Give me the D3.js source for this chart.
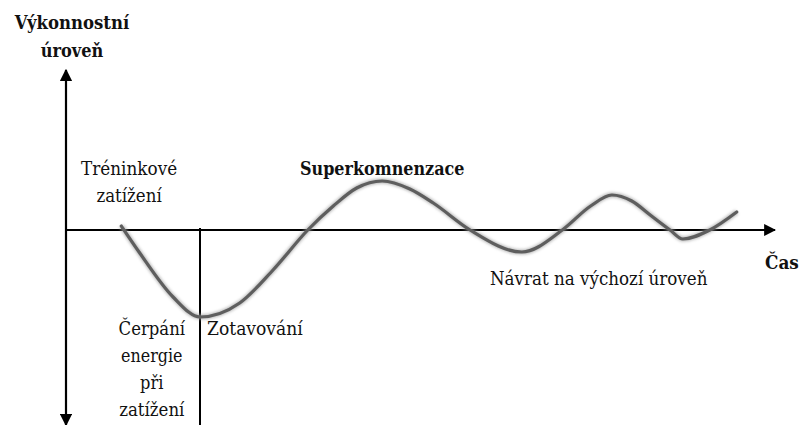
<!DOCTYPE html>
<html><head><meta charset="utf-8">
<script src="https://cdn.jsdelivr.net/npm/d3@7"></script>
<style>
html,body{margin:0;padding:0;background:#fff;}
svg{display:block;}
</style></head>
<body>
<svg id="chart" width="802" height="425"></svg>
<script>
// Data (arbitrary units: time 0..100, performance level -100..100)
const times  = [7.8, 10.4, 15.1, 18.9, 24.5, 29.2, 34.1, 37.7, 41.0, 44.6, 48.5, 51.8, 57.0, 64.3, 70.0, 74.0, 77.0, 79.8, 82.4, 85.2, 87.0, 90.8, 94.6];
const levels = [2, -11.5, -33.5, -43.5, -36.5, -20, 0, 12, 21, 24.5, 20.5, 13.5, 0, -11, 0, 12, 17.5, 14.5, 7.5, 0, -4.5, 0, 9];
const dividerTime = 18.9;
const yAxisTitle = ["Výkonnostní", "úroveň"];
const xAxisTitle = "Čas";
const labels = [
  {lines:["Tréninkové","zatížení"], t:8.9, v:27.5, anchor:"middle", bold:false},
  {lines:["Superkomnenzace"], t:33.0, v:27.5, anchor:"start", bold:true},
  {lines:["Návrat na výchozí úroveň"], t:59.8, v:-27.5, anchor:"start", bold:false},
  {lines:["Čerpání","energie","při","zatížení"], t:12.1, v:-52.5, anchor:"middle", bold:false},
  {lines:["Zotavování"], t:19.9, v:-52.5, anchor:"start", bold:false}
];

const FONT = "'DejaVu Serif', serif";
const METRIC_FONT = "'Liberation Serif', 'Times New Roman', serif";
const svg = d3.select("#chart");
const x = d3.scaleLinear().domain([0, 100]).range([66, 775]);
const y = d3.scaleLinear().domain([-100, 100]).range([430, 30]);

// measure Times-like widths, then draw serif glyphs fitted to them
const probe = svg.append("text").attr("font-family", METRIC_FONT).attr("font-size", 21)
  .attr("x", -1000).attr("y", -1000);
function fit(tspan, s, bold) {
  probe.attr("font-weight", bold ? "bold" : "normal").text(s);
  const w = probe.node().getComputedTextLength();
  tspan.attr("textLength", w).attr("lengthAdjust", "spacingAndGlyphs");
}

const defs = svg.append("defs");
defs.append("marker").attr("id", "arr")
  .attr("viewBox", "0 0 10 10").attr("refX", 9).attr("refY", 5)
  .attr("markerWidth", 5.5).attr("markerHeight", 5.5).attr("orient", "auto-start-reverse")
  .append("path").attr("d", "M0,0 L10,5 L0,10 Z").attr("fill", "#000");
defs.append("filter").attr("id","soft").attr("x","-10%").attr("y","-10%").attr("width","120%").attr("height","120%")
  .append("feGaussianBlur").attr("stdDeviation", 1.6);

// vertical axis (arrows both ends)
svg.append("line").attr("x1", x(0)).attr("x2", x(0))
  .attr("y1", y(80)).attr("y2", 425)
  .attr("stroke", "#000").attr("stroke-width", 2.2)
  .attr("marker-start", "url(#arr)").attr("marker-end", "url(#arr)");
// horizontal axis
svg.append("line").attr("x1", x(0)).attr("x2", x(100))
  .attr("y1", y(0)).attr("y2", y(0))
  .attr("stroke", "#000").attr("stroke-width", 2.2)
  .attr("marker-end", "url(#arr)");
// divider
svg.append("line").attr("x1", x(dividerTime)).attr("x2", x(dividerTime))
  .attr("y1", y(1)).attr("y2", 425)
  .attr("stroke", "#000").attr("stroke-width", 2);

// curve
const line = d3.line().x((d, i) => x(times[i])).y((d, i) => y(levels[i]))
  .curve(d3.curveMonotoneX);
svg.append("path").datum(levels).attr("d", line)
  .attr("fill", "none").attr("stroke", "#999").attr("stroke-width", 5)
  .attr("filter", "url(#soft)").attr("opacity", 0.7);
svg.append("path").datum(levels).attr("d", line)
  .attr("fill", "none").attr("stroke", "#5e5e5e").attr("stroke-width", 3.2)
  .attr("stroke-linecap", "round");

// axis titles
const yt = svg.append("text").attr("font-family", FONT).attr("fill", "#111")
  .attr("font-weight", "bold").attr("font-size", 19).attr("text-anchor", "middle");
yAxisTitle.forEach((s, i) => fit(yt.append("tspan").attr("x", 72).attr("y", 29 + i * 28).text(s), s, true));
const xt = svg.append("text").attr("font-family", FONT).attr("fill", "#111")
  .attr("x", 765).attr("y", 269).attr("font-weight", "bold").attr("font-size", 19).text(xAxisTitle);
fit(xt, xAxisTitle, true);

// labels
labels.forEach(l => {
  const t = svg.append("text").attr("font-family", FONT).attr("fill", "#111")
    .attr("font-size", 19).attr("text-anchor", l.anchor)
    .attr("font-weight", l.bold ? "bold" : "normal");
  l.lines.forEach((s, i) => fit(t.append("tspan").attr("x", x(l.t)).attr("y", y(l.v) + i * 27).text(s), s, l.bold));
});
probe.remove();
</script>
</body></html>
